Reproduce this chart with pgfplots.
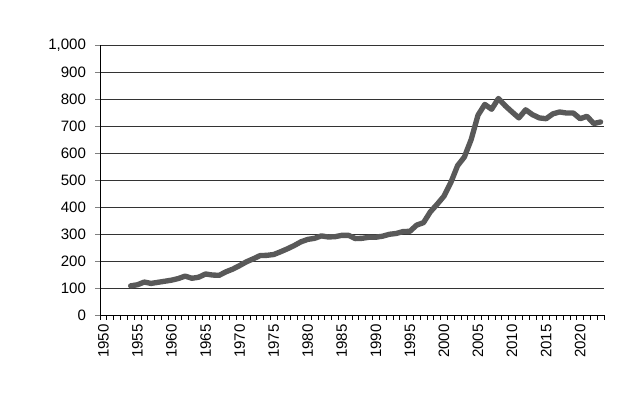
\documentclass[border=0pt]{standalone}
\usepackage{fontspec}
\setmainfont{Liberation Sans}
\usepackage{pgfplots}
\pgfplotsset{compat=1.18}
\definecolor{linegray}{RGB}{89,89,89}
\begin{document}
\begin{tikzpicture}
\useasboundingbox (0,0) rectangle (474.75pt,297.75pt);
\begin{axis}[
  at={(75pt,61.5pt)}, anchor=south west,
  scale only axis, width=378pt, height=202.5pt,
  xmin=1949.5, xmax=2023.5, ymin=0, ymax=1000,
  axis x line*=bottom, axis y line*=left,
  axis line style={black, line width=0.6pt},
  xtick={1950,1955,...,2020},
  minor xtick={1949.5,1950.5,...,2023.5},
  major x tick style={draw=none},
  minor x tick style={black, line width=0.5pt},
  minor tick length=3.5pt,
  ytick={0,100,...,1000},
  major tick length=3.5pt,
  tick align=outside,
  ymajorgrids, grid style={black!80, line width=0.6pt},
  font=\fontsize{11.3}{13}\selectfont,
  /pgf/number format/assume math mode=true,
  /pgf/number format/.cd, 1000 sep={,},
  /pgfplots/.cd,
  xticklabel style={rotate=90, anchor=east, /pgf/number format/1000 sep={}, yshift=0pt},
  yticklabel style={anchor=east, xshift=-3.5pt},
]
\addplot[linegray, line width=4pt, line join=round, line cap=round] coordinates {
(1954,108) (1955,112) (1956,122) (1957,117) (1958,121) (1959,125)
(1960,129) (1961,135) (1962,144) (1963,136) (1964,140) (1965,152)
(1966,148) (1967,147) (1968,160) (1969,170) (1970,183) (1971,197)
(1972,208) (1973,220) (1974,221) (1975,224) (1976,234) (1977,245)
(1978,257) (1979,271) (1980,280) (1981,284) (1982,293) (1983,289)
(1984,290) (1985,295) (1986,295) (1987,283) (1988,284) (1989,288)
(1990,288) (1991,292) (1992,299) (1993,302) (1994,309) (1995,310)
(1996,333) (1997,342) (1998,382) (1999,410) (2000,440) (2001,490)
(2002,553) (2003,585) (2004,650) (2005,740) (2006,780) (2007,762)
(2008,802) (2009,775) (2010,752) (2011,730) (2012,760) (2013,742)
(2014,730) (2015,727) (2016,745) (2017,752) (2018,748) (2019,748)
(2020,727) (2021,736) (2022,709) (2023,715)
};
\end{axis}
\end{tikzpicture}
\end{document}
